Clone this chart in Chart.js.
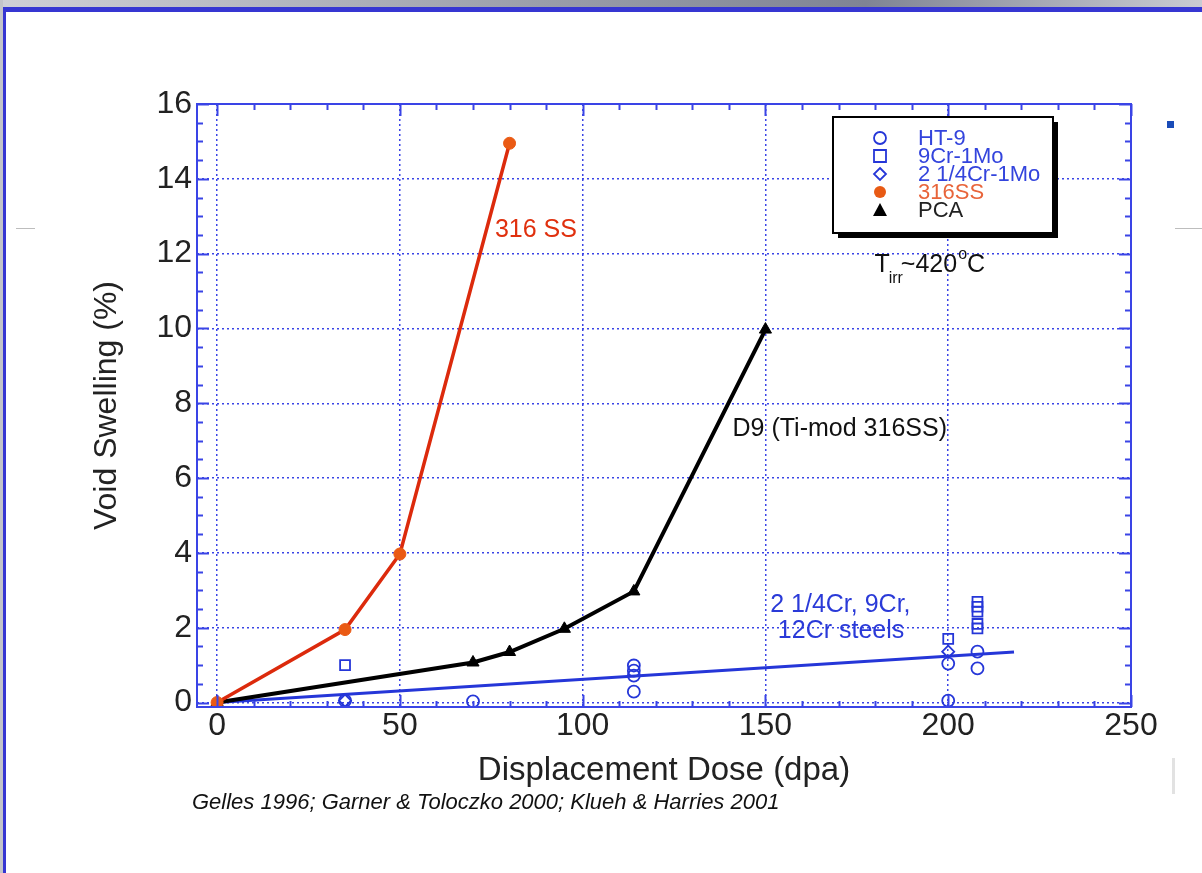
<!DOCTYPE html>
<html>
<head>
<meta charset="utf-8">
<script src="https://cdn.jsdelivr.net/npm/chart.js@4/dist/chart.umd.min.js"></script>
<style>
  body { margin: 0; background: #fff; }
  #slide { position: relative; width: 1202px; height: 873px; overflow: hidden; background: #fff; }
  .topbar { position: absolute; left: 0; top: 0; width: 1202px; height: 7px;
    background: linear-gradient(to right, #cfd0d6 0%, #9a9eaa 45%, #7f8494 72%, #c9cbd2 100%); }
  .leftgray { position: absolute; left: 0; top: 0; width: 3px; height: 873px; background: #c3c4ca; }
  .bluetop { position: absolute; left: 3px; top: 7px; width: 1199px; height: 5px; background: #3636d2; }
  .blueleft { position: absolute; left: 3px; top: 7px; width: 3px; height: 866px; background: #3636d2; }
  .rule { position: absolute; top: 228px; height: 1px; background: #bdbdbd; }
  .bullet { position: absolute; left: 1167px; top: 121px; width: 7px; height: 7px; background: #1a4cb8; }
  .ghost { position: absolute; left: 1172px; top: 758px; width: 3px; height: 36px; background: #e2e2e2; }
  #cite { position: absolute; left: 192px; top: 789px; font: italic 22px "Liberation Sans", Arial, sans-serif; color: #111; white-space: nowrap; }
  canvas { position: absolute; left: 0; top: 0; }
</style>
</head>
<body>
<div id="slide">
  <div class="topbar"></div>
  <div class="leftgray"></div>
  <div class="bluetop"></div>
  <div class="blueleft"></div>
  <div class="rule" style="left:16px;width:19px"></div>
  <div class="rule" style="left:1175px;width:27px"></div>
  <div class="bullet"></div>
  <div class="ghost"></div>
  <canvas id="chart" width="1202" height="873"></canvas>
  <div id="cite">Gelles 1996; Garner &amp; Toloczko 2000; Klueh &amp; Harries 2001</div>
</div>
<script>
// values (dose in dpa, swelling in %)
const xTicks = [0, 50, 100, 150, 200, 250];
const yTicks = [0, 2, 4, 6, 8, 10, 12, 14, 16];

const ss316Dose = [0, 35, 50, 80];
const ss316Swell = [0, 1.95, 3.97, 14.95];

const pcaDose = [0, 70, 80, 95, 114, 150];
const pcaSwell = [0, 1.07, 1.35, 1.97, 2.97, 9.97];

const ht9Dose = [35, 70, 114, 114, 114, 114, 200, 200, 208, 208];
const ht9Swell = [0.05, 0.03, 0.99, 0.85, 0.72, 0.29, 1.04, 0.05, 1.36, 0.91];

const cr9Dose = [35, 200, 208, 208, 208, 208, 208];
const cr9Swell = [1.0, 1.7, 2.69, 2.56, 2.43, 2.1, 1.98];

const cr2Dose = [35, 200];
const cr2Swell = [0.05, 1.36];

const trendDose = [0, 218];
const trendSwell = [0, 1.35];

const notes = [
  { text: '316 SS', x: 76, y: 12.64, color: '#e0300e' },
  { text: 'D9 (Ti-mod 316SS)', x: 141, y: 7.31, color: '#111' },
  { text: '2 1/4Cr, 9Cr,', x: 151.3, y: 2.6, color: '#2a3ad8' },
  { text: '12Cr steels', x: 153.4, y: 1.9, color: '#2a3ad8' }
];

const BLUE = '#2536d8';
const FRAME = '#3a44e6';
const FONT = '"Liberation Sans", Arial, Helvetica, sans-serif';

const pts = (xs, ys) => xs.map((x, i) => ({ x: x, y: ys[i] }));

// frame, inward ticks, legend box and text notes
const decor = {
  id: 'decor',
  afterDraw(chart) {
    const ctx = chart.ctx;
    const a = chart.chartArea;
    const sx = chart.scales.x, sy = chart.scales.y;
    ctx.save();
    ctx.strokeStyle = FRAME;
    ctx.lineWidth = 2;
    ctx.beginPath();
    for (let v = 0; v <= 250; v += 10) {
      const px = Math.round(sx.getPixelForValue(v)) + 0.5;
      const len = v % 50 === 0 ? 12 : 6;
      ctx.moveTo(px, a.bottom); ctx.lineTo(px, a.bottom - len);
      ctx.moveTo(px, a.top); ctx.lineTo(px, a.top + len);
    }
    for (let v = 0; v <= 16; v += 0.5) {
      const py = Math.round(sy.getPixelForValue(v)) + 0.5;
      const len = v % 2 === 0 ? 12 : 6;
      ctx.moveTo(a.left, py); ctx.lineTo(a.left + len, py);
      ctx.moveTo(a.right, py); ctx.lineTo(a.right - len, py);
    }
    ctx.stroke();
    ctx.lineWidth = 2;
    ctx.strokeRect(a.left, a.top, a.right - a.left, a.bottom - a.top);

    // notes
    ctx.textBaseline = 'middle';
    ctx.textAlign = 'left';
    ctx.font = '25px ' + FONT;
    notes.forEach(n => {
      ctx.fillStyle = n.color;
      ctx.fillText(n.text, sx.getPixelForValue(n.x), sy.getPixelForValue(n.y));
    });
    // T_irr ~420 °C
    let tx = sx.getPixelForValue(179.8), ty = sy.getPixelForValue(11.7);
    ctx.fillStyle = '#111';
    ctx.fillText('T', tx, ty);
    tx += ctx.measureText('T').width - 1;
    ctx.font = '16px ' + FONT;
    ctx.fillText('irr', tx, ty + 14);
    tx += ctx.measureText('irr').width - 2;
    ctx.font = '25px ' + FONT;
    ctx.fillText('~420', tx, ty);
    tx += ctx.measureText('~420').width + 1;
    ctx.font = '16px ' + FONT;
    ctx.fillText('o', tx, ty - 10);
    tx += ctx.measureText('o').width;
    ctx.font = '25px ' + FONT;
    ctx.fillText('C', tx, ty);

    // legend box with drop shadow
    const lx = 833, ly = 117, lw = 220, lh = 116;
    ctx.fillStyle = '#000';
    ctx.fillRect(lx + 5, ly + 5, lw, lh);
    ctx.fillStyle = '#fff';
    ctx.fillRect(lx, ly, lw, lh);
    ctx.strokeStyle = '#000';
    ctx.lineWidth = 2;
    ctx.strokeRect(lx, ly, lw, lh);
    ctx.font = '22px ' + FONT;
    chart.data.datasets
      .filter(ds => ds.legendColor)
      .sort((p, q) => p.legendRank - q.legendRank)
      .forEach((ds, row) => {
        const cy = ly + 21 + row * 18;
        const cx = lx + 47;
        drawMarker(ctx, ds.pointStyle, cx, cy, 6, ds.pointBorderColor, ds.legendFill);
        ctx.fillStyle = ds.legendColor;
        ctx.fillText(ds.label, lx + 85, cy + 1);
      });
    ctx.restore();
  }
};

function drawMarker(ctx, style, x, y, r, stroke, fill) {
  ctx.save();
  ctx.beginPath();
  if (style === 'circle') ctx.arc(x, y, r, 0, Math.PI * 2);
  else if (style === 'rect') ctx.rect(x - r, y - r, r * 2, r * 2);
  else if (style === 'rectRot') { ctx.moveTo(x, y - r); ctx.lineTo(x + r, y); ctx.lineTo(x, y + r); ctx.lineTo(x - r, y); ctx.closePath(); }
  else if (style === 'triangle') { ctx.moveTo(x, y - r - 1); ctx.lineTo(x + r + 1, y + r); ctx.lineTo(x - r - 1, y + r); ctx.closePath(); }
  if (fill) { ctx.fillStyle = fill; ctx.fill(); }
  else { ctx.strokeStyle = stroke; ctx.lineWidth = 1.8; ctx.stroke(); }
  ctx.restore();
}

const gridColor = ctx => ctx.tick && (ctx.tick.value === 250 || ctx.tick.value === 16) ? 'rgba(0,0,0,0)' : '#3a44e6';

new Chart(document.getElementById('chart'), {
  type: 'scatter',
  data: {
    datasets: [
      {
        label: '316SS', data: pts(ss316Dose, ss316Swell), showLine: true,
        borderColor: '#dc2a0c', borderWidth: 3.5, pointStyle: 'circle', pointRadius: 6,
        pointBackgroundColor: '#ea5a14', pointBorderColor: '#ea5a14', pointBorderWidth: 1,
        legendColor: '#e8643a', legendFill: '#e85a14', legendRank: 4
      },
      {
        label: 'PCA', data: pts(pcaDose, pcaSwell), showLine: true,
        borderColor: '#000', borderWidth: 4, pointStyle: 'triangle', pointRadius: 7,
        pointBackgroundColor: '#000', pointBorderColor: '#000', pointBorderWidth: 1,
        legendColor: '#222', legendFill: '#000', legendRank: 5
      },
      {
        label: 'HT-9', data: pts(ht9Dose, ht9Swell), pointStyle: 'circle', pointRadius: 6,
        pointBackgroundColor: 'rgba(255,255,255,0)', pointBorderColor: BLUE, pointBorderWidth: 1.8,
        legendColor: '#3344dd', legendRank: 1
      },
      {
        label: '9Cr-1Mo', data: pts(cr9Dose, cr9Swell), pointStyle: 'rect', pointRadius: 7,
        pointBackgroundColor: 'rgba(255,255,255,0)', pointBorderColor: BLUE, pointBorderWidth: 1.8,
        legendColor: '#3344dd', legendRank: 2
      },
      {
        label: '2 1/4Cr-1Mo', data: pts(cr2Dose, cr2Swell), pointStyle: 'rectRot', pointRadius: 6,
        pointBackgroundColor: 'rgba(255,255,255,0)', pointBorderColor: BLUE, pointBorderWidth: 1.8,
        legendColor: '#3344dd', legendRank: 3
      },
      {
        label: 'steels trend', data: pts(trendDose, trendSwell), showLine: true,
        borderColor: BLUE, borderWidth: 3, pointRadius: 0
      }
    ]
  },
  options: {
    responsive: false,
    animation: false,
    layout: { padding: { left: 80, right: 71, top: 104, bottom: 81 } },
    plugins: { legend: { display: false }, tooltip: { enabled: false } },
    scales: {
      x: {
        type: 'linear', min: -5.5, max: 250,
        afterBuildTicks: s => { s.ticks = xTicks.map(v => ({ value: v })); },
        afterFit: s => { s.height = 85; },
        grid: { drawTicks: false, color: gridColor, lineWidth: 1.5 },
        border: { display: false, dash: [2, 3] },
        ticks: { padding: 0, color: '#222', font: { family: FONT, size: 32 } },
        title: { display: true, text: 'Displacement Dose (dpa)', color: '#222',
          font: { family: FONT, size: 33 }, padding: { top: 0, bottom: 1 } }
      },
      y: {
        type: 'linear', min: -0.12, max: 16,
        afterBuildTicks: s => { s.ticks = yTicks.map(v => ({ value: v })); },
        afterFit: s => { s.width = 117; },
        grid: { drawTicks: false, color: gridColor, lineWidth: 1.5 },
        border: { display: false, dash: [2, 3] },
        ticks: { padding: 5, color: '#222', font: { family: FONT, size: 32 } },
        title: { display: true, text: 'Void Swelling (%)', color: '#222',
          font: { family: FONT, size: 32 }, padding: { top: 8, bottom: 0 } }
      }
    }
  },
  plugins: [decor]
});
</script>
</body>
</html>
